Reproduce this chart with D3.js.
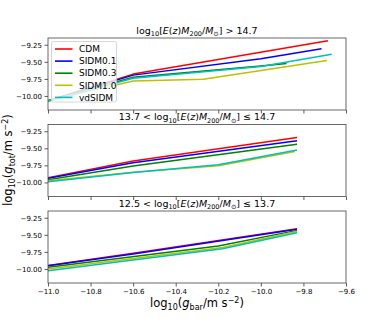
<!DOCTYPE html>
<html lang="en">
  <head>
    <meta charset="UTF-8" />
    <title>RAR by halo mass</title>
    <script src="https://cdn.jsdelivr.net/npm/d3@7"></script>
    <style>
      body {
        margin: 0;
        padding: 0;
        background: #fff;
      }
      text {
        font-family: 'DejaVu Sans', sans-serif;
        fill: #000;
      }
    </style>
  </head>

  <body>
    <svg width="385" height="318"></svg>

    <script>
      var models = ['CDM', 'SIDM0.1', 'SIDM0.3', 'SIDM1.0', 'vdSIDM']
      var colors = ['#ff0000', '#0000ff', '#008000', '#bfbf00', '#00bfbf']
      var xTicks = [-11.0, -10.8, -10.6, -10.4, -10.2, -10.0, -9.8, -9.6]
      var yTicks = [-10.0, -9.75, -9.5, -9.25]

      // [log g_bar, log g_tot] per model, one array per mass bin
      var highMass = [
        [[-11.0, -10.07], [-10.6, -9.68], [-9.685, -9.19]],
        [[-11.0, -10.07], [-10.6, -9.695], [-10.0, -9.455], [-9.715, -9.31]],
        [[-11.0, -10.07], [-10.6, -9.725], [-10.0, -9.56], [-9.88, -9.525]],
        [[-11.0, -10.07], [-10.6, -9.78], [-10.27, -9.755], [-9.69, -9.48]],
        [[-11.0, -10.08], [-10.6, -9.74], [-10.0, -9.57], [-9.667, -9.39]],
      ]
      var midMass = [
        [[-11.0, -9.93], [-10.6, -9.685], [-9.83, -9.34]],
        [[-11.0, -9.94], [-10.6, -9.71], [-9.83, -9.39]],
        [[-11.0, -9.96], [-10.6, -9.76], [-9.83, -9.44]],
        [[-11.0, -9.975], [-10.6, -9.85], [-10.2, -9.755], [-9.84, -9.545]],
        [[-11.0, -9.99], [-10.6, -9.855], [-10.2, -9.74], [-9.83, -9.525]],
      ]
      var lowMass = [
        [[-11.0, -9.95], [-10.6, -9.77], [-9.83, -9.41]],
        [[-11.0, -9.955], [-10.6, -9.78], [-9.83, -9.42]],
        [[-11.0, -9.975], [-10.2, -9.665], [-9.83, -9.435]],
        [[-11.0, -10.0], [-10.18, -9.685], [-9.83, -9.45]],
        [[-11.0, -10.025], [-10.18, -9.705], [-9.83, -9.47]],
      ]
      var panels = [highMass, midMass, lowMass]
      var titles = [
        { pre: '', post: ' > 14.7' },
        { pre: '13.7 < ', post: ' \u2264 14.7' },
        { pre: '12.5 < ', post: ' \u2264 13.7' },
      ]

      var config = {
        left: 48,
        right: 346,
        tops: [38, 124.5, 211],
        height: 72,
      }

      var svg = d3.select('svg')
      var fmtX = (d) => d3.format('.1f')(d).replace('-', '\u2212')
      var fmtY = (d) => d3.format('.2f')(d).replace('-', '\u2212')

      var xScale = d3
        .scaleLinear()
        .domain([-11.0, -9.6])
        .range([config.left, config.right])

      var line = d3.line()

      panels.forEach(function (data, p) {
        var top = config.tops[p]
        var yScale = d3
          .scaleLinear()
          .domain([-10.206, -9.151])
          .range([top + config.height, top])

        var g = svg.append('g')

        g.append('clipPath')
          .attr('id', 'clip' + p)
          .append('rect')
          .attr('x', config.left)
          .attr('y', top)
          .attr('width', config.right - config.left)
          .attr('height', config.height)

        // x axis at panel bottom, labels only on the last panel
        var xAxis = d3
          .axisBottom(xScale)
          .tickValues(xTicks)
          .tickSize(3.5)
          .tickPadding(2.5)
          .tickFormat(p === 2 ? fmtX : '')
        var xg = g
          .append('g')
          .attr('transform', `translate(0, ${top + config.height})`)
          .call(xAxis)

        var yAxis = d3
          .axisLeft(yScale)
          .tickValues(yTicks)
          .tickSize(3.5)
          .tickPadding(2.5)
          .tickFormat(fmtY)
        var yg = g
          .append('g')
          .attr('transform', `translate(${config.left}, 0)`)
          .call(yAxis)

        ;[xg, yg].forEach(function (a) {
          a.select('.domain').remove()
          a.selectAll('line').attr('stroke', '#333').attr('stroke-width', 0.8)
          a.selectAll('text')
            .style('font-size', '7px')
            .style('font-family', 'DejaVu Sans, sans-serif')
        })

        // lines
        var lg = g.append('g').attr('clip-path', `url(#clip${p})`)
        data.forEach(function (pts, i) {
          lg.append('path')
            .attr('d', line(pts.map((d) => [xScale(d[0]), yScale(d[1])])))
            .attr('fill', 'none')
            .attr('stroke', colors[i])
            .attr('stroke-width', 1.5)
            .attr('stroke-linejoin', 'round')
        })

        // frame
        g.append('rect')
          .attr('x', config.left)
          .attr('y', top)
          .attr('width', config.right - config.left)
          .attr('height', config.height)
          .attr('fill', 'none')
          .attr('stroke', '#444')
          .attr('stroke-width', 0.8)

        // title
        var t = g
          .append('text')
          .attr('x', (config.left + config.right) / 2)
          .attr('y', top - 4.5)
          .attr('text-anchor', 'middle')
          .style('font-size', '9.5px')
        t.append('tspan').text(titles[p].pre + 'log')
        t.append('tspan').attr('dy', 2.5).style('font-size', '6.5px').text('10')
        t.append('tspan').attr('dy', -2.5).text('[')
        t.append('tspan').style('font-style', 'italic').text('E')
        t.append('tspan').text('(')
        t.append('tspan').style('font-style', 'italic').text('z')
        t.append('tspan').text(')')
        t.append('tspan').style('font-style', 'italic').text('M')
        t.append('tspan').attr('dy', 2.5).style('font-size', '6.5px').text('200')
        t.append('tspan').attr('dy', -2.5).text('/')
        t.append('tspan').style('font-style', 'italic').text('M')
        t.append('tspan').attr('dy', 2.5).style('font-size', '6.5px').text('\u2299')
        t.append('tspan').attr('dy', -2.5).text(']' + titles[p].post)
      })

      // legend in the first panel
      var leg = svg.append('g').attr('transform', 'translate(51.5, 41.5)')
      leg.append('rect')
        .attr('width', 65)
        .attr('height', 60.5)
        .attr('rx', 2)
        .attr('fill', '#fff')
        .attr('fill-opacity', 0.8)
        .attr('stroke', '#ccc')
        .attr('stroke-width', 0.8)
      models.forEach(function (m, i) {
        var y = 7.5 + i * 12.1
        leg.append('line')
          .attr('x1', 3.5)
          .attr('x2', 21)
          .attr('y1', y)
          .attr('y2', y)
          .attr('stroke', colors[i])
          .attr('stroke-width', 1.6)
        leg.append('text')
          .attr('x', 27.5)
          .attr('y', y + 3.2)
          .style('font-size', '9px')
          .text(m)
      })

      // axis labels
      var xl = svg
        .append('text')
        .attr('x', 197)
        .attr('y', 307)
        .attr('text-anchor', 'middle')
        .style('font-size', '11.5px')
      xl.append('tspan').text('log')
      xl.append('tspan').attr('dy', 3).style('font-size', '8px').text('10')
      xl.append('tspan').attr('dy', -3).text('(')
      xl.append('tspan').style('font-style', 'italic').text('g')
      xl.append('tspan').attr('dy', 3).style('font-size', '8px').text('bar')
      xl.append('tspan').attr('dy', -3).text('/m s')
      xl.append('tspan').attr('dy', -4.5).style('font-size', '8px').text('\u22122')
      xl.append('tspan').attr('dy', 4.5).text(')')

      var yl = svg
        .append('text')
        .attr('transform', 'translate(12, 160) rotate(-90)')
        .attr('text-anchor', 'middle')
        .style('font-size', '11.5px')
      yl.append('tspan').text('log')
      yl.append('tspan').attr('dy', 3).style('font-size', '8px').text('10')
      yl.append('tspan').attr('dy', -3).text('(')
      yl.append('tspan').style('font-style', 'italic').text('g')
      yl.append('tspan').attr('dy', 3).style('font-size', '8px').text('tot')
      yl.append('tspan').attr('dy', -3).text('/m s')
      yl.append('tspan').attr('dy', -4.5).style('font-size', '8px').text('\u22122')
      yl.append('tspan').attr('dy', 4.5).text(')')
    </script>
  </body>
</html>
